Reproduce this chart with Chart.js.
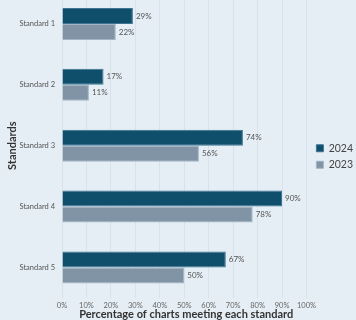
<!DOCTYPE html>
<html>
<head>
<meta charset="utf-8">
<script src="https://cdn.jsdelivr.net/npm/chart.js@4/dist/chart.umd.min.js"></script>
<style>
	html, body { margin: 0; padding: 0; background: #e5eef5; overflow: hidden; }
	#grafico { display: block; margin-top: -18px; }
</style>
</head>
<body>
<canvas id="grafico" width="363" height="343"></canvas>
<script>
var categorias = ["Standard 1", "Standard 2", "Standard 3", "Standard 4", "Standard 5"];
var valores2024 = [29, 17, 74, 90, 67];
var valores2023 = [22, 11, 56, 78, 50];
var ticksX = [0, 10, 20, 30, 40, 50, 60, 70, 80, 90, 100];

// etiquetas al final de cada barra
var etiquetasBarras = {
	id: "etiquetasBarras",
	afterDatasetsDraw: function(chart)
	{
		var ctx = chart.ctx;
		ctx.save();
		ctx.font = "8px Lato";
		ctx.fillStyle = "#555";
		ctx.textBaseline = "middle";
		chart.data.datasets.forEach(function(ds, i) {
			var meta = chart.getDatasetMeta(i);
			meta.data.forEach(function(bar, j) {
				ctx.fillText(ds.data[j] + "%", bar.x + 3, bar.y);
			});
		});
		ctx.restore();
	}
};

var ctx = document.getElementById("grafico");
var myChart = new Chart(ctx, {
	type: "bar",
	data: {
		labels: categorias,
		datasets: [
			{
				label: "2024",
				data: valores2024,
				backgroundColor: "#0f4f6c",
				borderColor: "#3d7593",
				borderWidth: 1,
				categoryPercentage: 0.525,
				barPercentage: 1
			},
			{
				label: "2023",
				data: valores2023,
				backgroundColor: "#8094a6",
				borderColor: "#a3b3c2",
				borderWidth: 1,
				categoryPercentage: 0.525,
				barPercentage: 1
			}
		]
	},
	plugins: [etiquetasBarras],
	options: {
		indexAxis: "y",
		responsive: false,
		animation: false,
		layout: { padding: { top: 0, right: 0, left: 0, bottom: 10 } },
		plugins: {
			legend: {
				position: "right",
				align: "center",
				title: {
					display: true,
					text: "",
					padding: 0,
					font: { size: 16, lineHeight: 1 }
				},
				labels: {
					boxWidth: 7,
					boxHeight: 7,
					padding: 6,
					color: "#444",
					font: { family: "Lato", size: 10.5 }
				}
			},
			tooltip: { enabled: false }
		},
		scales: {
			x: {
				min: 0,
				max: 101.6,
				afterBuildTicks: function(axis) {
					axis.ticks = ticksX.map(function(v) { return { value: v }; });
				},
				grid: { color: "#d8e2ea", drawTicks: false },
				border: { display: false },
				ticks: {
					color: "#666",
					padding: 4,
					maxRotation: 0,
					autoSkip: false,
					font: { family: "Lato", size: 7.5, lineHeight: 1 },
					callback: function(v) { return v + "%"; }
				},
				title: {
					display: true,
					text: "Percentage of charts meeting each standard",
					color: "#333",
					padding: 0,
					font: { family: "Lato", size: 11, weight: "bold", lineHeight: 0.15 }
				}
			},
			y: {
				afterFit: function(axis) {
					axis.width = 62;
				},
				grid: { display: false, drawTicks: false },
				border: { display: false },
				ticks: {
					color: "#555",
					padding: 7,
					font: { family: "Lato", size: 7.5 }
				},
				title: {
					display: true,
					text: "Standards",
					color: "#333",
					padding: { top: 6, bottom: 4 },
					font: { family: "Lato", size: 11, weight: "bold" }
				}
			}
		}
	}
});
</script>
</body>
</html>
